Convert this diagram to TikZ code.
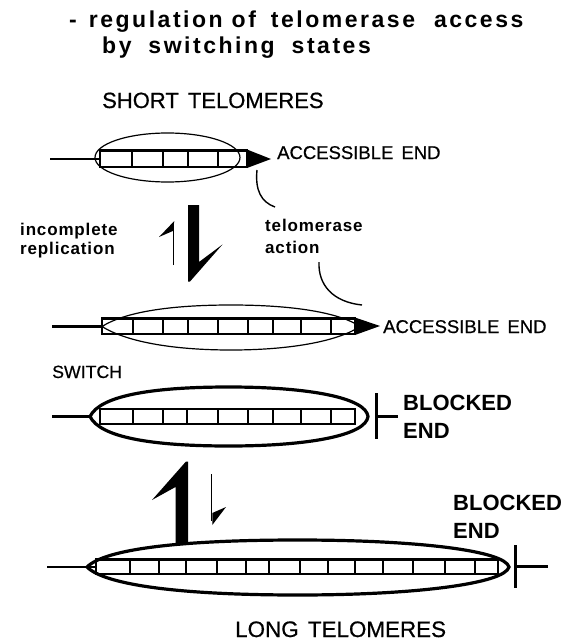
\documentclass[tikz,border=0pt]{standalone}
\usepackage{fontspec}
\setmainfont{Liberation Sans}
\newfontfamily\spacedfont{Liberation Sans}[LetterSpace=11]
\newfontfamily\notefont{Liberation Sans}[LetterSpace=5]
\newfontfamily\capsfont{Liberation Sans}[FakeBold=0.6]
\newcommand\setfs[1]{\fontsize{#1}{#1}\selectfont}
\tikzset{
  lbl/.style={inner sep=0pt, anchor=base west, text depth=0pt},
  caps/.style={lbl, font=\capsfont\setfs{#1}},
  bcaps/.style={lbl, font=\bfseries\setfs{#1}},
  heading/.style={lbl, font=\spacedfont\bfseries\setfs{#1}},
  note/.style={lbl, font=\notefont\bfseries\setfs{#1}},
  tail/.style={line width=2.6pt},
  cellbox/.style={draw, line width=2.6pt, fill=white},
  divider/.style={line width=2.2pt},
  sheaththin/.style={line width=1.2pt},
  sheaththick/.style={line width=3.2pt},
  pointer/.style={line width=1.4pt},
  endbar/.style={line width=3pt},
}
\begin{document}
\begin{tikzpicture}[x=1pt,y=-1pt]
\useasboundingbox (0,0) rectangle (567,642);

% ---- heading ----
\node[heading=23] (h1) at (69,28) {-\hspace{12pt}regulation of\hspace{6pt} telomerase\hspace{10pt} access};
\node[heading=23] (h2) at (102,53) {by\hspace{8pt} switching\hspace{8pt} states};
\node[caps=22] (short) at (102,108) {SHORT\hspace{3pt} TELOMERES};

% ---- short telomere, accessible ----
\coordinate (s1a) at (50,159);
\coordinate (s1b) at (100,159);
\draw[tail] (s1a) -- (s1b);
\draw[cellbox] (100,150.5) rectangle (247,167);
\foreach \x in {132,163,188,218} \draw[divider] (\x,150.5) -- (\x,167);
\draw[sheaththin] (167.5,157.5) ellipse [x radius=72.5, y radius=24.5];
\fill (247,149.5) -- (271,159) -- (247,168) -- cycle;
\node[caps=18.5] (acc1) at (277,159) {ACCESSIBLE\hspace{3pt} END};

% telomerase action
\coordinate (p1a) at (257,170);
\coordinate (p1b) at (275,207);
\draw[pointer] (p1a) .. controls (255,190) and (261,202) .. (p1b);
\node[note=17] (tel) at (265,231) {telomerase};
\node[note=17] (act) at (265,253) {action};
\coordinate (p2a) at (319,262);
\coordinate (p2b) at (362,305);
\draw[pointer] (p2a) .. controls (318,285) and (333,302) .. (p2b);

% incomplete replication
\node[note=17] (inc) at (20,235) {incomplete};
\node[note=17] (rep) at (20,254) {replication};

% equilibrium harpoons (upper)
\draw[line width=1.4pt] (173.5,265) -- (173.5,224);
\fill (174.3,221) -- (159,237) -- (172.8,231) -- cycle;
\fill (188,205) -- (199,205) -- (199,262) -- (222.5,244.5) -- (190,281.5) -- (188,281.5) -- cycle;

% ---- elongated, accessible ----
\coordinate (s2a) at (52,326.5);
\coordinate (s2b) at (102,326.5);
\draw[tail] (s2a) -- (s2b);
\draw[cellbox] (102,318.5) rectangle (355,334);
\foreach \x in {133,163,188,218,248,273,301,331} \draw[divider] (\x,318.5) -- (\x,334);
\draw[sheaththin] (102,326.5) .. controls (125,312) and (170,305) .. (231,305)
  .. controls (295,305) and (340,313) .. (360,326.5)
  .. controls (340,340) and (295,350) .. (231,350)
  .. controls (170,350) and (125,341) .. (102,326.5);
\fill (355,317.5) -- (380,326) -- (355,335) -- cycle;
\node[caps=18.5] (acc2) at (383,333) {ACCESSIBLE\hspace{3pt} END};

\node[caps=17.7] (sw) at (52,378) {SWITCH};

% ---- elongated, blocked ----
\coordinate (s3a) at (52,416.5);
\coordinate (s3b) at (92,416.5);
\draw[tail] (s3a) -- (s3b);
\draw[cellbox] (100,409) rectangle (355,424);
\foreach \x in {133,163,187,218,248,273,301,331} \draw[divider] (\x,409) -- (\x,424);
\draw[sheaththick] (90,416.5) .. controls (100,396) and (150,387) .. (229,387)
  .. controls (310,387) and (366,398) .. (368,416.5)
  .. controls (366,435) and (310,446) .. (229,446)
  .. controls (150,446) and (100,437) .. (90,416.5);
\coordinate (b3t) at (376,393);
\coordinate (b3b) at (376,439);
\coordinate (b3c) at (376,416);
\coordinate (b3e) at (398,416);
\draw[endbar] (b3t) -- (b3b);
\draw[endbar] (b3c) -- (b3e);
\node[bcaps=22] (blk1) at (403,410) {BLOCKED};
\node[bcaps=22] (end1) at (403,438) {END};

% equilibrium harpoons (lower)
\fill (188,543) -- (175.5,543) -- (175.5,487) -- (152,500) -- (186,461.5) -- (188,461.5) -- cycle;
\draw[line width=1.4pt] (211.5,474) -- (211.5,521);
\fill (212.3,525) -- (226,507) -- (212.3,513) -- cycle;

% ---- long telomere, blocked ----
\coordinate (s4a) at (47,567);
\coordinate (s4b) at (96,567);
\draw[tail] (s4a) -- (s4b);
\draw[cellbox] (96,559.5) rectangle (498,574);
\foreach \x in {130,159,186,217,246,269,300,328,355,383,413,445,475} \draw[divider] (\x,559.5) -- (\x,574);
\draw[sheaththick] (87,567) .. controls (105,549) and (180,540) .. (298,540)
  .. controls (420,540) and (505,551) .. (509,567)
  .. controls (505,583) and (420,595) .. (298,595)
  .. controls (180,595) and (105,585) .. (87,567);
\coordinate (b4t) at (515,545);
\coordinate (b4b) at (515,588);
\coordinate (b4c) at (515,566);
\coordinate (b4e) at (548,566);
\draw[endbar] (b4t) -- (b4b);
\draw[endbar] (b4c) -- (b4e);
\node[bcaps=22] (blk2) at (453,510) {BLOCKED};
\node[bcaps=22] (end2) at (453,538) {END};

\node[caps=22.4] (long) at (235,637) {LONG\hspace{3pt} TELOMERES};
\end{tikzpicture}
\end{document}
